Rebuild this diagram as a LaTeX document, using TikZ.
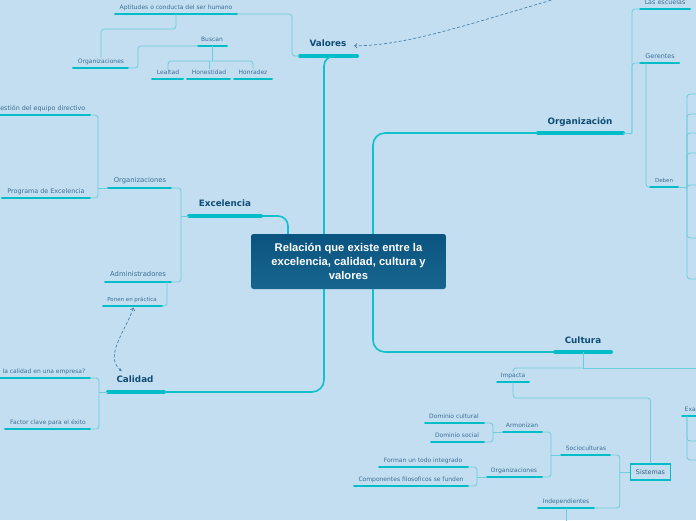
\documentclass[tikz,border=0pt]{standalone}
\usepackage{fontspec}
\setmainfont{DejaVu Sans}
\newfontfamily\titlefont{Liberation Sans}
\usetikzlibrary{arrows.meta,calc}
\definecolor{bgc}{HTML}{C3DEF0}
\definecolor{barc}{HTML}{00BDC8}
\definecolor{connc}{HTML}{6ACFDC}
\definecolor{lblc}{HTML}{3B6F98}
\definecolor{headc}{HTML}{0E4D75}
\definecolor{rootc}{HTML}{0A5480}
\definecolor{rootb}{HTML}{17668F}
\definecolor{dashc}{HTML}{4A7FA8}
\tikzset{
 bigbar/.style={draw=barc,line width=4pt,line cap=round},
 smbar/.style={draw=barc,line width=2pt,line cap=round},
 lbl/.style={font=\fontsize{6}{7}\selectfont,text=lblc,anchor=base,inner sep=0.5pt},
 lbls/.style={lbl,font=\fontsize{5.5}{6.5}\selectfont},
 lblm/.style={lbl,font=\fontsize{6.4}{7.5}\selectfont},
 lblx/.style={lbl,font=\fontsize{6.8}{8}\selectfont},
 head/.style={font=\bfseries\fontsize{8.8}{10}\selectfont,text=headc,anchor=base,inner sep=0.5pt},
 conn/.style={draw=connc,line width=0.8pt,rounded corners=3pt},
 mainconn/.style={draw=barc!85!connc,line width=1.6pt,rounded corners=10pt},
 dasharr/.style={draw=dashc,line width=0.7pt,dash pattern=on 3pt off 2pt},
 rootbox/.style={rectangle,rounded corners=2.5pt,top color=rootc,bottom color=rootb,
   minimum width=195pt,minimum height=55pt,text=white,align=center,inner sep=0pt,
   font=\titlefont\bfseries\fontsize{11.2}{13.6}\selectfont},
 sysbox/.style={draw=barc,line width=1.4pt,fill=bgc,minimum width=40pt,minimum height=16pt,
   inner sep=1pt,font=\fontsize{6.4}{7.5}\selectfont,text=lblc!85!black},
}
% name, x1, x2, ybar, barstyle, labelstyle, textx, lift, text
\newcommand\topic[9]{%
 \coordinate (#1-l) at (#2,#4);
 \coordinate (#1-r) at (#3,#4);
 \coordinate (#1-c) at ({(#2+#3)/2},#4);
 \draw[#5] (#1-l) -- (#1-r);
 \node[#6] (#1) at (#7,{#4-#8}) {#9};}
\begin{document}
\begin{tikzpicture}[x=1pt,y=-1pt]
\useasboundingbox (0,0) rectangle (696,520);
\fill[bgc] (0,0) rectangle (696,520);
\clip (0,0) rectangle (696,520);

% root
\node[rootbox] (root) at (348.5,261.5) {Relación que existe entre la\\excelencia, calidad, cultura y\\valores};
\coordinate (rv) at (324,0);
\coordinate (re) at (288,0);
\coordinate (ro) at (373,0);

% Valores
\topic{val}{300}{357}{56}{bigbar}{head}{328}{9.5}{Valores}
\topic{apt}{115}{237}{14}{smbar}{lbl}{176}{4.8}{Aptitudes o conducta del ser humano}
\topic{orga}{73}{128}{68}{smbar}{lbl}{101}{4.8}{Organizaciones}
\topic{bus}{198}{227}{46}{smbar}{lbl}{212}{4.8}{Buscan}
\topic{lea}{152}{183}{79}{smbar}{lbl}{168}{4.8}{Lealtad}
\topic{hon}{187}{230}{79}{smbar}{lbl}{209}{4.8}{Honestidad}
\topic{hra}{234}{272}{79}{smbar}{lbl}{253}{4.8}{Honradez}

% Excelencia
\topic{exc}{189}{261}{216}{bigbar}{head}{225}{9.3}{Excelencia}
\topic{orgb}{108}{171}{188}{smbar}{lblx}{140}{5.5}{Organizaciones}
\topic{adm}{105}{171}{282}{smbar}{lblx}{138}{5.5}{Administradores}
\topic{ges}{-10}{90}{115}{smbar}{lblm,anchor=base east}{86}{5}{Gestión del equipo directivo}
\topic{pro}{2}{90}{198}{smbar}{lblm}{46}{5}{Programa de Excelencia}
\topic{pon}{103}{162}{306}{smbar}{lbls}{132}{4.5}{Ponen en práctica}

% Calidad
\topic{cal}{108}{164}{392}{bigbar}{head}{135}{9.3}{Calidad}
\topic{que}{-10}{90}{378}{smbar}{lbl,anchor=base east}{86}{4.8}{la calidad en una empresa?}
\topic{fac}{5}{90}{429}{smbar}{lbl}{48}{4.8}{Factor clave para el éxito}

% Organizacion
\topic{org}{538}{623}{133}{bigbar}{head}{580}{9}{Organización}
\topic{esc}{640}{690}{9}{smbar}{lblm}{665}{5}{Las escuelas}
\topic{ger}{640}{679}{63}{smbar}{lblm}{660}{5}{Gerentes}
\topic{deb}{650}{678}{187}{smbar}{lbls}{664}{4.5}{Deben}

% Cultura
\topic{cul}{555}{611}{352}{bigbar}{head}{583}{9}{Cultura}
\topic{imp}{497}{529}{382}{smbar}{lbl}{513}{4.8}{Impacta}
\node[sysbox] (sis) at (650.5,472) {Sistemas};
\topic{soc}{561}{610}{455}{smbar}{lbl}{586}{4.8}{Socioculturas}
\topic{ind}{538}{594}{508}{smbar}{lbl}{566}{4.8}{Independientes}
\topic{arm}{503}{542}{432}{smbar}{lbl}{522}{4.8}{Armonizan}
\topic{orgc}{487}{542}{477}{smbar}{lbl}{514}{4.8}{Organizaciones}
\topic{dcu}{425}{484}{423}{smbar}{lbl}{454}{4.8}{Dominio cultural}
\topic{dso}{431}{484}{442}{smbar}{lbl}{457}{4.8}{Dominio social}
\topic{for}{379}{468}{467}{smbar}{lbl}{423}{4.8}{Forman un todo integrado}
\topic{com}{354}{468}{486}{smbar}{lbl}{411}{4.8}{Componentes filosoficos se funden}
\topic{exa}{682}{710}{416}{smbar}{lbl,anchor=base west}{684}{4.8}{Exa}

% main connectors
\draw[mainconn] (root.north -| rv) |- ($(val-c)+(6,0)$);
\draw[mainconn] (exc-r) -| (root.north -| re);
\draw[mainconn,rounded corners=12pt] (root.north -| ro) |- (org-l);
\draw[mainconn,rounded corners=12pt] (root.south -| rv) |- (cal-r);
\draw[mainconn,rounded corners=12pt] (root.south -| ro) |- (cul-l);

% Valores connectors
\draw[conn] (val-l) -- ++(-8,0) |- (apt-r);
\draw[conn] (apt-c) -- ++(0,15) -| (orga.north);
\draw[conn] (orga-r) -- ++(10,0) |- (bus-l);
\draw[conn] (bus-c) -- ++(0,15) coordinate (bj);
\draw[conn] (bj) -| (lea.north);
\draw[conn] (bj) -| (hra.north);
\draw[conn] (hon.north |- bj) -- (hon.north);

% Excelencia connectors
\draw[conn] (exc-l) -- ++(-8,0) coordinate (ej);
\draw[conn] (ej) |- (orgb-r);
\draw[conn] (ej) |- (adm-r);
\draw[conn] (orgb-l) -- ++(-10,0) coordinate (oj);
\draw[conn] (oj) |- (ges-r);
\draw[conn] (oj) |- (pro-r);
\draw[conn] ($(adm-r)+(-4,0)$) |- (pon-r);

% Calidad connectors
\draw[conn] (cal-l) -- ++(-9,0) coordinate (cj);
\draw[conn] (cj) |- (que-r);
\draw[conn] (cj) |- (fac-r);

% Organizacion connectors
\draw[conn] (org-r) -- ++(9,0) coordinate (gj);
\draw[conn] (gj) |- (esc-l);
\draw[conn] (gj) |- (ger-l);
\draw[conn] ($(ger-l)+(6,0)$) |- (deb-l);
\draw[conn] (deb-r) -- ++(9,0) coordinate (dj);
\foreach \yy [count=\i] in {94,114,133,153,238,279}{
  \coordinate (dd\i) at (700,\yy);
  \draw[conn] (dj) |- (dd\i);
}
\coordinate (dd7) at (700,185);
\draw[conn] (dj) |- (dd7);

% Cultura connectors
\coordinate (cr) at (700,368);
\draw[conn] (cul-c) -- ++(0,16) coordinate (kj);
\draw[conn] (kj) -| (imp.north);
\draw[conn] (kj) -- (cr);
\draw[conn] (imp-c) -- ++(0,16) -| (sis.north);
\draw[conn] (sis.west) -- ++(-10,0) coordinate (sj);
\draw[conn] (sj) |- (soc-r);
\draw[conn] (sj) |- (ind-r);
\coordinate (indb) at (566,530);
\draw[conn] (ind-c) -- (indb);
\draw[conn] (soc-l) -- ++(-10,0) coordinate (qj);
\draw[conn] (qj) |- (arm-r);
\draw[conn] (qj) |- (orgc-r);
\draw[conn] (arm-l) -- ++(-10,0) coordinate (aj);
\draw[conn] (aj) |- (dcu-r);
\draw[conn] (aj) |- (dso-r);
\draw[conn] (orgc-l) -- ++(-10,0) coordinate (fj);
\draw[conn] (fj) |- (for-r);
\draw[conn] (fj) |- (com-r);
\coordinate (xj) at (687,416);
\coordinate (xe1) at (700,441);
\coordinate (xe2) at (700,460);
\draw[conn] (xj) |- (xe1);
\draw[conn] (xj) |- (xe2);

% dashed relations
\coordinate (dtop) at (580,-8);
\draw[dasharr,-{Straight Barb[length=2.5pt,width=4.5pt]}] (dtop) .. controls (480,20) and (410,46) .. ($(val.east)+(7,2.5)$);
\draw[dasharr,{Straight Barb[length=2.5pt,width=4.5pt]}-{Latex[length=3pt,width=3pt]}] ($(pon-c)+(1,1.5)$) .. controls (126,330) and (104,356) .. ($(cal.north)+(-13,-4)$);
\end{tikzpicture}
\end{document}
